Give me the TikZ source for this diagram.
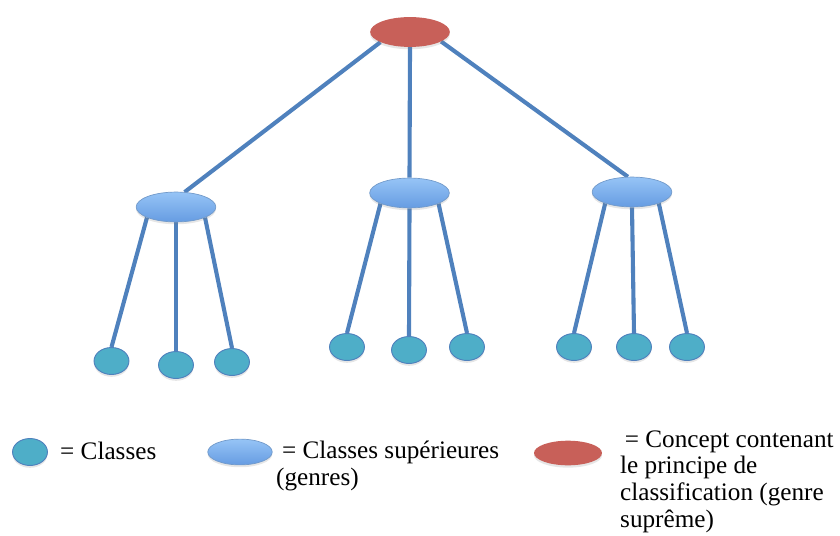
\documentclass[tikz,border=0pt]{standalone}
\usepackage{fontspec}
\setmainfont{Liberation Serif}
\usetikzlibrary{shapes.geometric,shadows,backgrounds}
\definecolor{linkblue}{RGB}{79,129,189}
\definecolor{rootred}{RGB}{200,96,89}
\definecolor{classteal}{RGB}{78,174,200}
\definecolor{genretop}{RGB}{150,196,246}
\definecolor{genrebot}{RGB}{102,156,226}
\tikzset{
	softshadow/.style={drop shadow={opacity=0.2, shadow xshift=0pt, shadow yshift=-2pt}},
	classe/.style={ellipse, draw=linkblue, line width=0.8pt, fill=classteal, minimum width=29.8pt, minimum height=23pt, inner sep=0pt, softshadow},
	genre/.style={ellipse, draw=linkblue!80, line width=0.6pt, top color=genretop, bottom color=genrebot, minimum width=68pt, minimum height=25.5pt, inner sep=0pt, softshadow},
	supreme/.style={ellipse, fill=rootred, minimum width=68pt, minimum height=25.5pt, inner sep=0pt, softshadow},
	lien/.style={draw=linkblue, line width=3.5pt},
	legende/.style={font=\fontsize{21.5}{22.7}\selectfont, inner sep=0pt, align=left}
}

\begin{document}
\begin{tikzpicture}[x=0.03cm, y=-0.03cm]
	%%%%% START %%%%%
	\useasboundingbox (0, 0) rectangle (840, 536);
	
	\node[supreme] (root) at (410, 32) {};
	
	\node[genre] (gl) at (176, 207) {};
	\node[genre] (gm) at (409.5, 193) {};
	\node[genre] (gr) at (632, 192) {};
	
	\node[classe] (c11) at (111.5, 361) {};
	\node[classe] (c12) at (176, 365) {};
	\node[classe] (c13) at (232, 362) {};
	
	\node[classe] (c21) at (347, 347) {};
	\node[classe] (c22) at (409, 350) {};
	\node[classe] (c23) at (467, 347) {};
	
	\node[classe] (c31) at (574, 347) {};
	\node[classe] (c32) at (634, 347) {};
	\node[classe] (c33) at (687, 347) {};
	
	\begin{scope}[on background layer]
		\draw[lien] (root.199) -- (gl.60);
		\draw[lien] (root.south) -- (gm.north);
		\draw[lien] (root.343) -- (gr.105);
		
		\draw[lien] (gl.200) -- (c11.north);
		\draw[lien] (gl.south) -- (c12.north);
		\draw[lien] (gl.340) -- (c13.north);
		
		\draw[lien] (gm.200) -- (c21.north);
		\draw[lien] (gm.south) -- (c22.north);
		\draw[lien] (gm.340) -- (c23.north);
		
		\draw[lien] (gr.203) -- (c31.north);
		\draw[lien] (gr.south) -- (c32.north);
		\draw[lien] (gr.337) -- (c33.north);
	\end{scope}
	
	% legend
	\node[classe] (lc) at (30, 452) {};
	\node[legende, anchor=base west] (tc) at (60, 459) {= Classes};
	
	\node[genre, minimum width=55pt, minimum height=22pt] (lg) at (240, 452) {};
	\node[legende, anchor=base west] (tg) at (276, 485) {\hspace*{5pt}= Classes supérieures\\(genres)};
	
	\node[supreme, minimum width=58pt, minimum height=21pt] (ls) at (568, 453) {};
	\node[legende, anchor=base west] (ts) at (620, 527) {\hspace*{4pt}= Concept contenant\\le principe de\\classification (genre\\suprême)};
	%%%%% END %%%%%
\end{tikzpicture}
\end{document}
